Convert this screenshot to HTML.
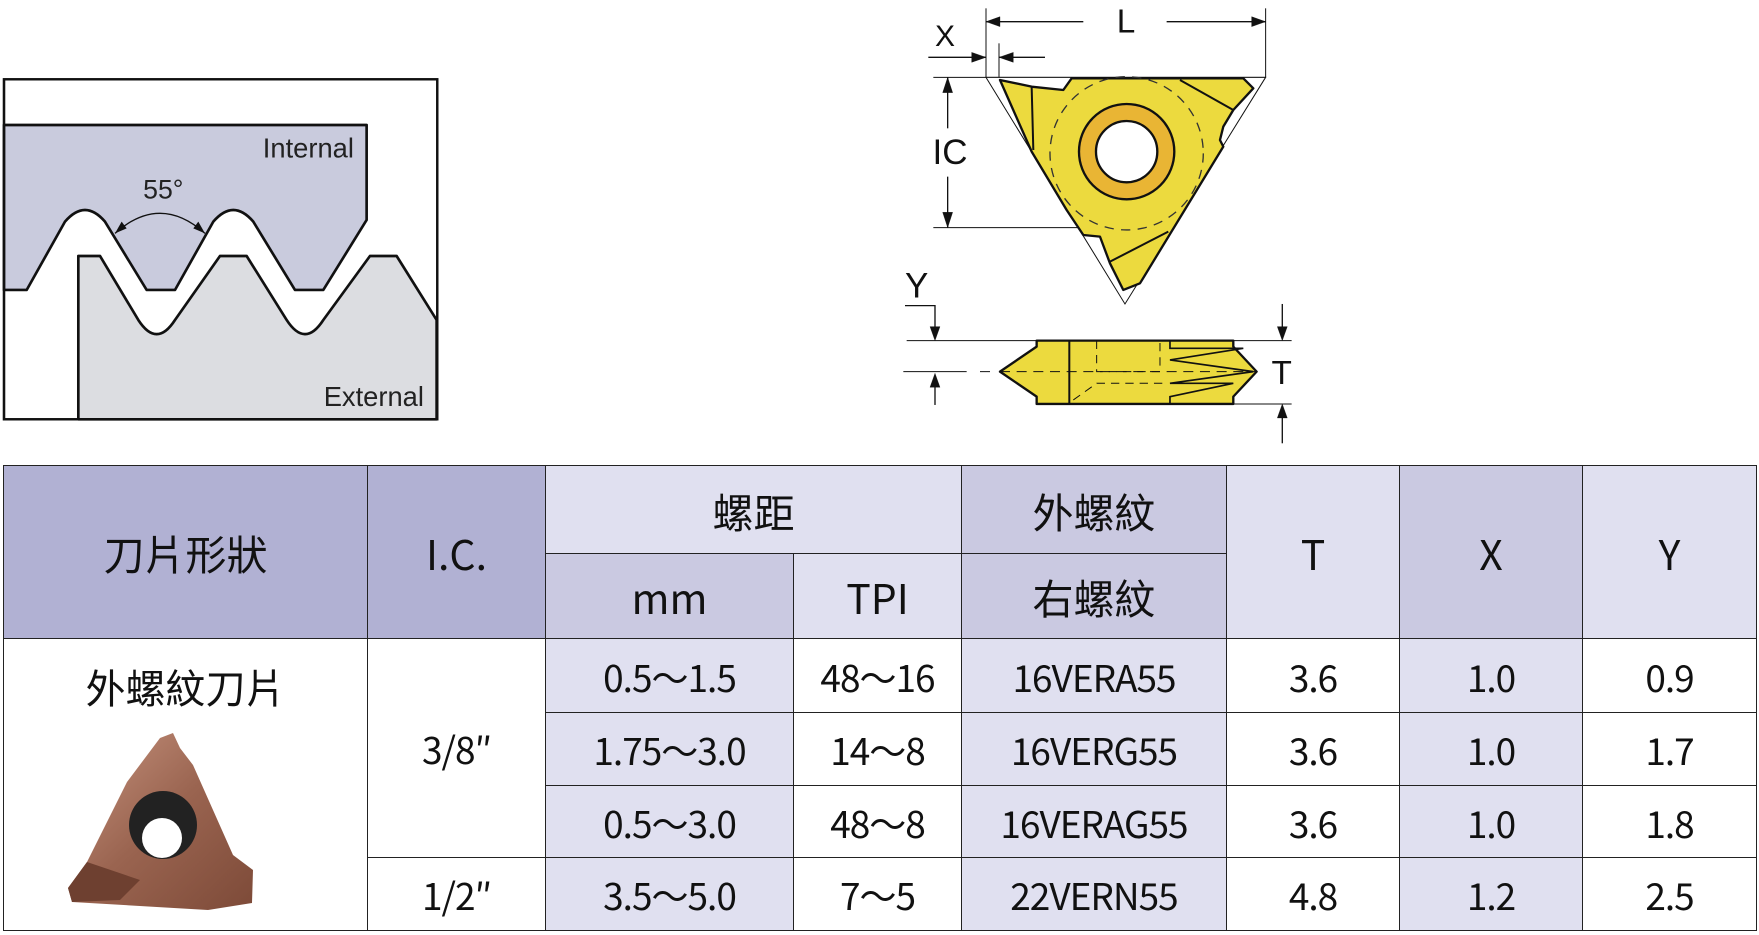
<!DOCTYPE html>
<html><head><meta charset="utf-8"><style>
body{margin:0;width:1759px;height:935px;background:#fff;position:relative;overflow:hidden;font-family:"Noto Sans CJK TC","Liberation Sans",sans-serif;color:#111}
.c{position:absolute;box-sizing:border-box;display:flex;align-items:center;justify-content:center;border:1px solid #222;font-size:37px;font-weight:400;letter-spacing:-1px}
.h{font-size:41px;letter-spacing:0}
.A{background:#b1b1d3}.D{background:#cac9e1}.L{background:#e0e0f0}.W{background:#fff}
svg{position:absolute;left:0;top:0}
</style></head><body>
<svg width="1759" height="935">
<g transform="translate(0,70) scale(0.3333)">
<rect x="12" y="28" width="1300" height="1020" fill="#fff" stroke="#111" stroke-width="7"/>
<path d="M12,165 H1100 V450 L970,660 H885 L760,455 Q700,385 640,455 L525,660 H440 L315,455 Q255,385 195,455 L80,660 H12 Z" fill="#c9cbdd" stroke="#111" stroke-width="8" stroke-linejoin="round"/>
<path d="M235,1048 V558 H300 L415,750 Q470,835 525,750 L660,558 H740 L860,750 Q915,835 970,750 L1110,558 H1190 L1310,750 V1048 Z" fill="#dcdde1" stroke="#111" stroke-width="8" stroke-linejoin="round"/>
<rect x="12" y="28" width="1300" height="1020" fill="none" stroke="#111" stroke-width="7"/>
<path d="M345,490 Q480,370 615,490" fill="none" stroke="#111" stroke-width="4"/>
<polygon points="345,490 365,455 380,475" fill="#111"/><polygon points="615,490 595,455 580,475" fill="#111"/>
<text x="490" y="385" font-size="80" text-anchor="middle" font-family="Liberation Sans" fill="#222">55°</text>
<text x="1062" y="262" font-size="82" text-anchor="end" font-family="Liberation Sans" fill="#222">Internal</text>
<text x="1272" y="1008" font-size="82" text-anchor="end" font-family="Liberation Sans" fill="#222">External</text>
</g>
<g transform="translate(880,0) scale(0.3333)" stroke="#111" font-family="Liberation Sans">
<line x1="318" y1="25" x2="318" y2="232" stroke-width="3"/><line x1="1157" y1="25" x2="1157" y2="232" stroke-width="3"/>
<line x1="318" y1="65" x2="610" y2="65" stroke-width="4"/><line x1="860" y1="65" x2="1157" y2="65" stroke-width="4"/>
<polygon points="318,65 360,50 360,80" fill="#111"/><polygon points="1157,65 1115,50 1115,80" fill="#111"/>
<text x="738" y="98" font-size="100" text-anchor="middle" stroke="none" fill="#111">L</text>
<text x="195" y="138" font-size="90" text-anchor="middle" stroke="none" fill="#111">X</text>
<line x1="145" y1="172" x2="318" y2="172" stroke-width="4"/><polygon points="318,172 275,157 275,187" fill="#111"/>
<line x1="357" y1="130" x2="357" y2="240" stroke-width="3"/>
<line x1="357" y1="172" x2="495" y2="172" stroke-width="4"/><polygon points="357,172 400,157 400,187" fill="#111"/>
<line x1="160" y1="232" x2="1157" y2="232" stroke-width="3"/>
<line x1="160" y1="683" x2="740" y2="683" stroke-width="3"/>
<line x1="203" y1="232" x2="203" y2="385" stroke-width="4"/><line x1="203" y1="530" x2="203" y2="683" stroke-width="4"/>
<polygon points="203,232 188,278 218,278" fill="#111"/><polygon points="203,683 188,637 218,637" fill="#111"/>
<text x="210" y="492" font-size="105" text-anchor="middle" stroke="none" fill="#111">IC</text>
<polygon points="318,232 1157,232 735,912" fill="#fff" stroke-width="3"/>
<polygon points="360,240 455,260 550,270 575,235 1090,235 1120,265 1060,330 1030,380 1020,420 1030,440 780,850 730,870 690,790 660,710 610,705 560,630 455,455" fill="#ecda3e" stroke-width="7" stroke-linejoin="round"/>
<line x1="455" y1="260" x2="460" y2="450" stroke-width="6"/>
<line x1="900" y1="240" x2="1060" y2="330" stroke-width="6"/>
<line x1="690" y1="785" x2="865" y2="695" stroke-width="6"/>
<circle cx="740" cy="460" r="230" fill="none" stroke="#333" stroke-width="4" stroke-dasharray="28,22"/>
<circle cx="740" cy="455" r="143" fill="#e9b534" stroke-width="7"/>
<circle cx="740" cy="455" r="92" fill="#fff" stroke-width="7"/>
<text x="110" y="892" font-size="105" text-anchor="middle" stroke="none" fill="#111">Y</text>
<polyline points="75,917 165,917 165,1010" fill="none" stroke-width="4"/><polygon points="165,1022 150,980 180,980" fill="#111"/>
<line x1="165" y1="1130" x2="165" y2="1215" stroke-width="4"/><polygon points="165,1120 150,1162 180,1162" fill="#111"/>
<line x1="80" y1="1022" x2="1235" y2="1022" stroke-width="3"/><line x1="70" y1="1115" x2="260" y2="1115" stroke-width="3"/>
<line x1="300" y1="1115" x2="330" y2="1115" stroke-width="3"/>
<line x1="1060" y1="1212" x2="1235" y2="1212" stroke-width="3"/>
<line x1="1207" y1="912" x2="1207" y2="1010" stroke-width="4"/><polygon points="1207,1022 1192,980 1222,980" fill="#111"/>
<line x1="1207" y1="1225" x2="1207" y2="1330" stroke-width="4"/><polygon points="1207,1212 1192,1254 1222,1254" fill="#111"/>
<text x="1205" y="1152" font-size="100" text-anchor="middle" stroke="none" fill="#111">T</text>
<polygon points="470,1022 1060,1022 1060,1040 1130,1115 1060,1190 1060,1212 470,1212 470,1190 360,1115 470,1040" fill="#ecda3e" stroke-width="7" stroke-linejoin="round"/>
<line x1="568" y1="1022" x2="568" y2="1212" stroke-width="6"/>
<polyline points="870,1022 870,1045 1090,1045 870,1080 1120,1115 870,1150 1060,1150 870,1190 870,1212" fill="none" stroke-width="5"/>
<line x1="360" y1="1115" x2="1130" y2="1115" stroke-width="3" stroke-dasharray="30,20"/>
<polyline points="650,1022 650,1115 840,1115 840,1022" fill="none" stroke-width="3" stroke-dasharray="25,18"/>
<polyline points="580,1200 650,1150 860,1150" fill="none" stroke-width="3" stroke-dasharray="25,18"/>
</g>
</svg>
<div class="c A h" style="left:3px;top:465px;width:365px;height:174px">刀片形狀</div>
<div class="c A h" style="left:367px;top:465px;width:179px;height:174px">I.C.</div>
<div class="c L h" style="left:545px;top:465px;width:417px;height:89px">螺距</div>
<div class="c D h" style="left:545px;top:553px;width:249px;height:86px">mm</div>
<div class="c L h" style="left:793px;top:553px;width:169px;height:86px">TPI</div>
<div class="c D h" style="left:961px;top:465px;width:266px;height:89px">外螺紋</div>
<div class="c D h" style="left:961px;top:553px;width:266px;height:86px">右螺紋</div>
<div class="c L h" style="left:1226px;top:465px;width:174px;height:174px">T</div>
<div class="c D h" style="left:1399px;top:465px;width:184px;height:174px">X</div>
<div class="c L h" style="left:1582px;top:465px;width:175px;height:174px">Y</div>
<div class="c W" style="left:3px;top:638px;width:365px;height:293px;align-items:flex-start;padding-top:18px;font-size:40px;letter-spacing:0">外螺紋刀片</div>
<svg width="1759" height="935" style="pointer-events:none">
<defs><linearGradient id="g" x1="0" y1="0" x2="1" y2="1"><stop offset="0" stop-color="#c89580"/><stop offset=".5" stop-color="#9a6450"/><stop offset="1" stop-color="#7d4a38"/></linearGradient></defs>
<polygon points="160,738 173,733 180,748 193,765 233,855 253,870 252,903 208,910 72,902 68,888 87,862 127,782" fill="url(#g)"/>
<polygon points="87,862 140,880 120,900 72,902 68,888" fill="#6e4030"/>
<circle cx="163" cy="825" r="34" fill="#222"/><circle cx="162" cy="838" r="20" fill="#fff"/>
</svg>
<div class="c W" style="left:367px;top:638px;width:179px;height:220px">3/8″</div>
<div class="c W" style="left:367px;top:857px;width:179px;height:74px">1/2″</div>
<div class="c L" style="left:545px;top:638px;width:249px;height:75px">0.5～1.5</div>
<div class="c L" style="left:545px;top:712px;width:249px;height:74px">1.75～3.0</div>
<div class="c L" style="left:545px;top:785px;width:249px;height:73px">0.5～3.0</div>
<div class="c L" style="left:545px;top:857px;width:249px;height:74px">3.5～5.0</div>
<div class="c W" style="left:793px;top:638px;width:169px;height:75px">48～16</div>
<div class="c W" style="left:793px;top:712px;width:169px;height:74px">14～8</div>
<div class="c W" style="left:793px;top:785px;width:169px;height:73px">48～8</div>
<div class="c W" style="left:793px;top:857px;width:169px;height:74px">7～5</div>
<div class="c L" style="left:961px;top:638px;width:266px;height:75px">16VERA55</div>
<div class="c L" style="left:961px;top:712px;width:266px;height:74px">16VERG55</div>
<div class="c L" style="left:961px;top:785px;width:266px;height:73px">16VERAG55</div>
<div class="c L" style="left:961px;top:857px;width:266px;height:74px">22VERN55</div>
<div class="c W" style="left:1226px;top:638px;width:174px;height:75px">3.6</div>
<div class="c W" style="left:1226px;top:712px;width:174px;height:74px">3.6</div>
<div class="c W" style="left:1226px;top:785px;width:174px;height:73px">3.6</div>
<div class="c W" style="left:1226px;top:857px;width:174px;height:74px">4.8</div>
<div class="c L" style="left:1399px;top:638px;width:184px;height:75px">1.0</div>
<div class="c L" style="left:1399px;top:712px;width:184px;height:74px">1.0</div>
<div class="c L" style="left:1399px;top:785px;width:184px;height:73px">1.0</div>
<div class="c L" style="left:1399px;top:857px;width:184px;height:74px">1.2</div>
<div class="c W" style="left:1582px;top:638px;width:175px;height:75px">0.9</div>
<div class="c W" style="left:1582px;top:712px;width:175px;height:74px">1.7</div>
<div class="c W" style="left:1582px;top:785px;width:175px;height:73px">1.8</div>
<div class="c W" style="left:1582px;top:857px;width:175px;height:74px">2.5</div>
</body></html>
